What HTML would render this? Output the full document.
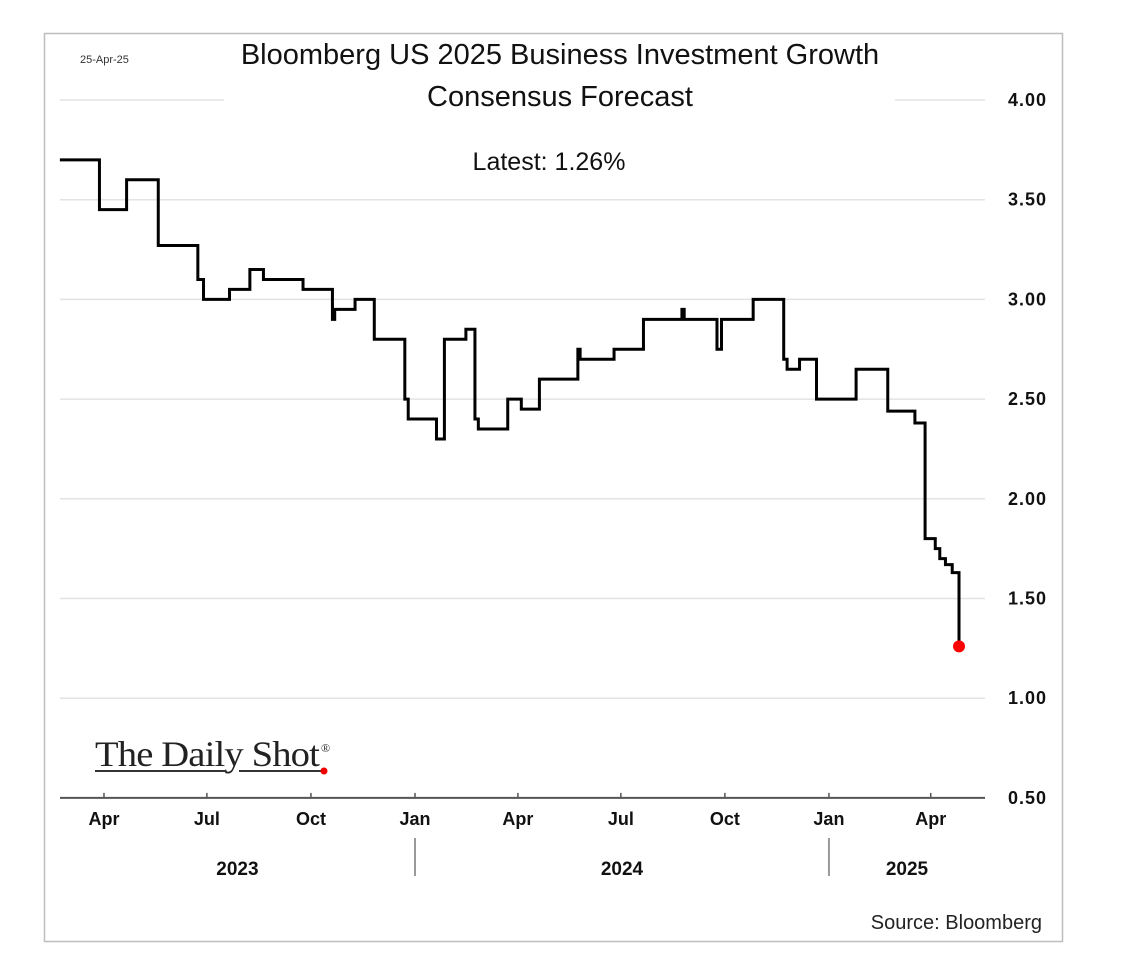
<!DOCTYPE html>
<html><head><meta charset="utf-8"><style>
html,body{margin:0;padding:0;background:#fff;}
svg{display:block;font-family:"Liberation Sans",sans-serif;}
</style></head><body>
<svg id="chart" width="1146" height="970" viewBox="0 0 1146 970">
<rect x="44.5" y="33.5" width="1018" height="908" fill="#fff" stroke="#bdbdbd" stroke-width="1.5"/>
<g id="grid"></g>
<g id="yticks"></g>
<g id="xaxis"></g>
<path id="series" fill="none" stroke="#000" stroke-width="3" stroke-linejoin="miter"/>
<circle id="lastdot" r="6" fill="#f00"/>
<text x="80" y="63" font-size="11" fill="#333">25-Apr-25</text>
<text x="560" y="64" font-size="29" text-anchor="middle" fill="#111">Bloomberg US 2025 Business Investment Growth</text>
<text x="560" y="106" font-size="29" text-anchor="middle" fill="#111">Consensus Forecast</text>
<text x="549" y="170" font-size="25" text-anchor="middle" fill="#111">Latest:  1.26%</text>
<g>
<text x="95" y="766" font-family="'Liberation Serif',serif" font-size="36" fill="#222" letter-spacing="-0.8" textLength="224" lengthAdjust="spacingAndGlyphs">The Daily Shot</text>
<text x="321" y="752" font-family="'Liberation Serif',serif" font-size="12" fill="#222">®</text>
<line x1="95" y1="771" x2="226" y2="771" stroke="#333" stroke-width="2"/>
<line x1="239" y1="771" x2="323" y2="771" stroke="#333" stroke-width="2"/>
<circle cx="324" cy="771" r="3.5" fill="#e00"/>
</g>
<text x="1042" y="929" font-size="20" text-anchor="end" fill="#222">Source: Bloomberg</text>
</svg>
<script>
// days since 2023-01-01 where each level begins, and forecast level (%)
const stepDays = [51,86,110,138,173,178,201,219,231,266,292,294,312,329,356,359,384,391,410,418,421,447,459,475,509,511,541,567,601,603,632,636,664,691,694,705,720,755,783,807,816,825,829,834,840,846];
const stepValues = [3.70,3.45,3.60,3.27,3.10,3.00,3.05,3.15,3.10,3.05,2.90,2.95,3.00,2.80,2.50,2.40,2.30,2.80,2.85,2.40,2.35,2.50,2.45,2.60,2.75,2.70,2.75,2.90,2.95,2.90,2.75,2.90,3.00,2.70,2.65,2.70,2.50,2.65,2.44,2.38,1.80,1.75,1.70,1.67,1.63,1.26];
const yTickValues = [0.5,1.0,1.5,2.0,2.5,3.0,3.5,4.0];
const yTickLabels = ["0.50","1.00","1.50","2.00","2.50","3.00","3.50","4.00"];
const monthDays = [90,181,273,365,456,547,639,731,821];
const monthLabels = ["Apr","Jul","Oct","Jan","Apr","Jul","Oct","Jan","Apr"];
const yearLabels = ["2023","2024","2025"];
const yearCenterDays = [208,548,800];
const yearDividerDays = [365,731];

const NS="http://www.w3.org/2000/svg";
const xS = d => 415 + (d-365)*1.131;
const yS = v => 100 + (4-v)*199.4;
function mk(tag, attrs, parent, txt){const e=document.createElementNS(NS,tag);for(const k in attrs)e.setAttribute(k,attrs[k]);if(txt!==undefined)e.textContent=txt;parent.appendChild(e);return e;}
const grid=document.getElementById('grid'), yt=document.getElementById('yticks'), xa=document.getElementById('xaxis');
yTickValues.forEach((v,i)=>{
  const y=yS(v);
  if(v===4.0){
    const a=mk('line',{x1:60,x2:224,y1:y,y2:y,stroke:'#e3e3e3','stroke-width':1.5},grid);
    
    
    const b=mk('line',{x1:895,x2:985,y1:y,y2:y,stroke:'#e3e3e3','stroke-width':1.5},grid);
    
    
  } else if(v>0.5){
    const g=mk('line',{x1:60,x2:985,y1:y,y2:y,stroke:'#e3e3e3','stroke-width':1.5},grid);
    
    
  }
  const t=mk('text',{x:1047,y:y+6,'font-size':18,'font-weight':'bold','text-anchor':'end',fill:'#111','letter-spacing':'1'},yt,yTickLabels[i]);
  
  
});
const ax=mk('line',{x1:60,x2:985,y1:yS(0.5),y2:yS(0.5),stroke:'#555','stroke-width':2},xa);


monthDays.forEach((d,i)=>{
  const x=xS(d);
  const tk=mk('line',{x1:x,x2:x,y1:yS(0.5)-5,y2:yS(0.5),stroke:'#555','stroke-width':1.5},xa);
  
  
  const t=mk('text',{x:x,y:825,'font-size':18,'font-weight':'bold','text-anchor':'middle',fill:'#111'},xa,monthLabels[i]);
  
  
});
yearDividerDays.forEach(d=>{
  const x=xS(d);
  const l=mk('line',{x1:x,x2:x,y1:838,y2:876,stroke:'#999','stroke-width':2},xa);
  
  
});
yearLabels.forEach((lab,i)=>{
  const t=mk('text',{x:xS(yearCenterDays[i]),y:875,'font-size':19,'font-weight':'bold','text-anchor':'middle',fill:'#111'},xa,lab);
  
  
});
let p='';
stepDays.forEach((d,i)=>{
  const x=xS(d), y=yS(stepValues[i]);
  if(i===0) p+='M'+x+','+y; else p+='H'+x+'V'+y;
});
p+='H'+xS(stepDays[stepDays.length-1]);
document.getElementById('series').setAttribute('d',p);
const dot=document.getElementById('lastdot');
dot.setAttribute('cx',xS(stepDays[stepDays.length-1]));
dot.setAttribute('cy',yS(stepValues[stepValues.length-1]));
</script>
</body></html>
